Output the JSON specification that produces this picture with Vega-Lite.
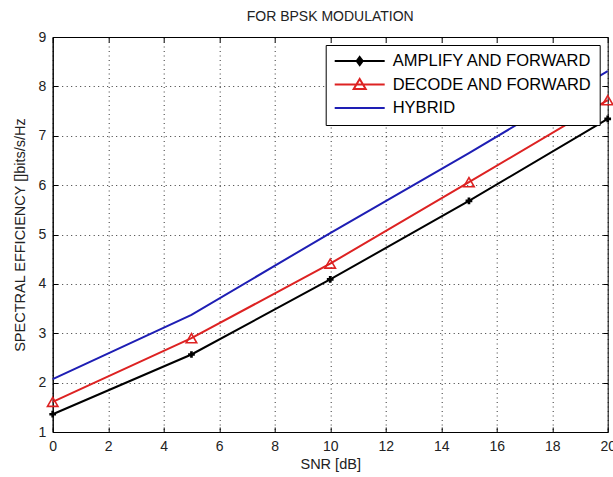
{
  "$schema": "https://vega.github.io/schema/vega-lite/v6.json",
  "width": 555,
  "height": 395,
  "autosize": {"type": "none"},
  "padding": {"left": 52.7, "top": 37, "right": 5.3, "bottom": 45},
  "background": "white",
  "title": {"text": "FOR BPSK MODULATION", "fontSize": 14, "fontWeight": "normal", "font": "Liberation Sans", "color": "#222222", "offset": 6},
  "config": {
    "view": {"stroke": "black", "strokeWidth": 1},
    "font": "Liberation Sans",
    "axis": {
      "domainColor": "black", "tickColor": "black", "labelColor": "#222222", "titleColor": "#222222",
      "labelFont": "Liberation Sans", "titleFont": "Liberation Sans", "labelFontSize": 14, "titleFontSize": 14.5, "titleFontWeight": "normal",
      "gridColor": "black", "gridOpacity": 0.8, "gridDash": [1, 3.5], "gridWidth": 1,
      "tickSize": -5, "tickWidth": 1
    }
  },
  "data": {"values": [
    {"snr": 0, "se": 1.36, "series": "AMPLIFY AND FORWARD"},
    {"snr": 5, "se": 2.57, "series": "AMPLIFY AND FORWARD"},
    {"snr": 10, "se": 4.09, "series": "AMPLIFY AND FORWARD"},
    {"snr": 15, "se": 5.68, "series": "AMPLIFY AND FORWARD"},
    {"snr": 20, "se": 7.34, "series": "AMPLIFY AND FORWARD"},
    {"snr": 0, "se": 1.61, "series": "DECODE AND FORWARD"},
    {"snr": 5, "se": 2.9, "series": "DECODE AND FORWARD"},
    {"snr": 10, "se": 4.41, "series": "DECODE AND FORWARD"},
    {"snr": 15, "se": 6.06, "series": "DECODE AND FORWARD"},
    {"snr": 20, "se": 7.72, "series": "DECODE AND FORWARD"},
    {"snr": 0, "se": 2.07, "series": "HYBRID"},
    {"snr": 5, "se": 3.37, "series": "HYBRID"},
    {"snr": 10, "se": 5.03, "series": "HYBRID"},
    {"snr": 15, "se": 6.65, "series": "HYBRID"},
    {"snr": 20, "se": 8.31, "series": "HYBRID"}
  ]},
  "resolve": {"axis": {"x": "independent", "y": "independent"}},
  "layer": [
    {
      "mark": {"type": "line", "strokeWidth": 2, "clip": false},
      "encoding": {
        "x": {"field": "snr", "type": "quantitative", "scale": {"domain": [0, 20], "nice": false},
              "axis": {"values": [0, 2, 4, 6, 8, 10, 12, 14, 16, 18, 20], "title": "SNR [dB]", "grid": true, "labelPadding": 12, "titlePadding": 4, "labelFlush": false}},
        "y": {"field": "se", "type": "quantitative", "scale": {"domain": [1, 9], "nice": false, "zero": false},
              "axis": {"values": [1, 2, 3, 4, 5, 6, 7, 8, 9], "title": "SPECTRAL EFFICIENCY []bits/s/Hz", "grid": true, "labelPadding": 12, "titlePadding": 10}},
        "color": {"field": "series", "type": "nominal",
          "scale": {"domain": ["AMPLIFY AND FORWARD", "DECODE AND FORWARD", "HYBRID"], "range": ["black", "#dd2222", "#1e1eb4"]},
          "legend": {
            "orient": "none", "legendX": 273, "legendY": 8, "title": null,
            "symbolType": "M-1,0H1", "symbolSize": 2500, "symbolStrokeWidth": 2,
            "labelFontSize": 16.5, "labelFont": "Liberation Sans", "labelColor": "black", "labelOffset": 7, "labelLimit": 400,
            "clipHeight": 16,
            "padding": 8, "rowPadding": 6.5, "strokeColor": "black", "fillColor": "white", "cornerRadius": 0,
            "encode": {"symbols": {"update": {
              "shape": {"signal": "datum.value === 'AMPLIFY AND FORWARD' ? 'M-1,0H1M0,-0.16L0.12,0L0,0.16L-0.12,0Z' : datum.value === 'DECODE AND FORWARD' ? 'M-1,0H1M0,-0.22L0.24,0.18L-0.24,0.18Z' : 'M-1,0H1'"},
              "fill": {"signal": "datum.value === 'AMPLIFY AND FORWARD' ? 'black' : 'transparent'"}
            }}}
          }
        }
      }
    },
    {
      "transform": [{"filter": "datum.series === 'AMPLIFY AND FORWARD'"}],
      "mark": {"type": "point", "shape": "cross", "filled": true, "color": "black", "size": 45, "opacity": 1, "clip": false},
      "encoding": {
        "x": {"field": "snr", "type": "quantitative", "axis": {"orient": "top", "labels": false, "title": null, "grid": false, "values": [0, 2, 4, 6, 8, 10, 12, 14, 16, 18, 20], "domain": false}},
        "y": {"field": "se", "type": "quantitative", "axis": {"orient": "right", "labels": false, "title": null, "grid": false, "values": [1, 2, 3, 4, 5, 6, 7, 8, 9], "domain": false}}
      }
    },
    {
      "transform": [{"filter": "datum.series === 'DECODE AND FORWARD'"}],
      "mark": {"type": "point", "shape": "triangle-up", "filled": false, "color": "#dd2222", "size": 110, "strokeWidth": 1.6, "opacity": 1, "clip": false},
      "encoding": {
        "x": {"field": "snr", "type": "quantitative", "axis": null},
        "y": {"field": "se", "type": "quantitative", "axis": null}
      }
    }
  ]
}
